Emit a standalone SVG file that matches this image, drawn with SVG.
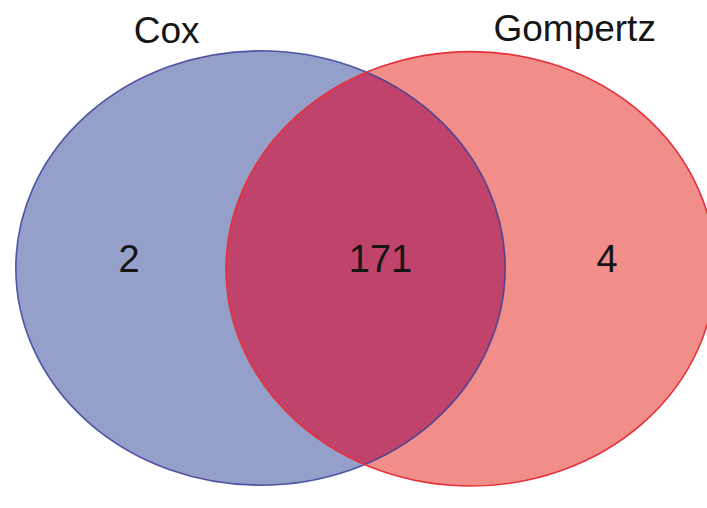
<svg xmlns="http://www.w3.org/2000/svg" width="707" height="508" viewBox="0 0 707 508">
<style>
.lbl{font-family:"Liberation Sans",Arial,sans-serif;fill:#151515;text-anchor:middle}
.set{font-size:37px}
.num{font-size:38px}
</style>
<defs>
<clipPath id="clipCox"><ellipse cx="260.5" cy="268" rx="244.7" ry="217.2"/></clipPath>
</defs>
<rect width="707" height="508" fill="#ffffff"/>
<g id="cox">
<ellipse cx="260.5" cy="268" rx="244.7" ry="217.2" fill="#949fca"/>
</g>
<g id="gompertz">
<ellipse cx="470.7" cy="268.8" rx="244.7" ry="217.2" fill="#f28e89"/>
</g>
<g id="overlap">
<ellipse cx="470.7" cy="268.8" rx="244.7" ry="217.2" fill="#c0436b" clip-path="url(#clipCox)"/>
</g>
<g id="outlines" fill="none" stroke-width="1.6">
<ellipse cx="260.5" cy="268" rx="244.7" ry="217.2" stroke="#3c3f98" stroke-opacity="0.85"/>
<ellipse cx="470.7" cy="268.8" rx="244.7" ry="217.2" stroke="#e6303a"/>
</g>
<g id="labels">
<text class="lbl set" x="166.7" y="43.3">Cox</text>
<text class="lbl set" x="574.7" y="41">Gompertz</text>
<text class="lbl num" x="129" y="272">2</text>
<text class="lbl num" x="380.5" y="272">171</text>
<text class="lbl num" x="607" y="272">4</text>
</g>
</svg>
